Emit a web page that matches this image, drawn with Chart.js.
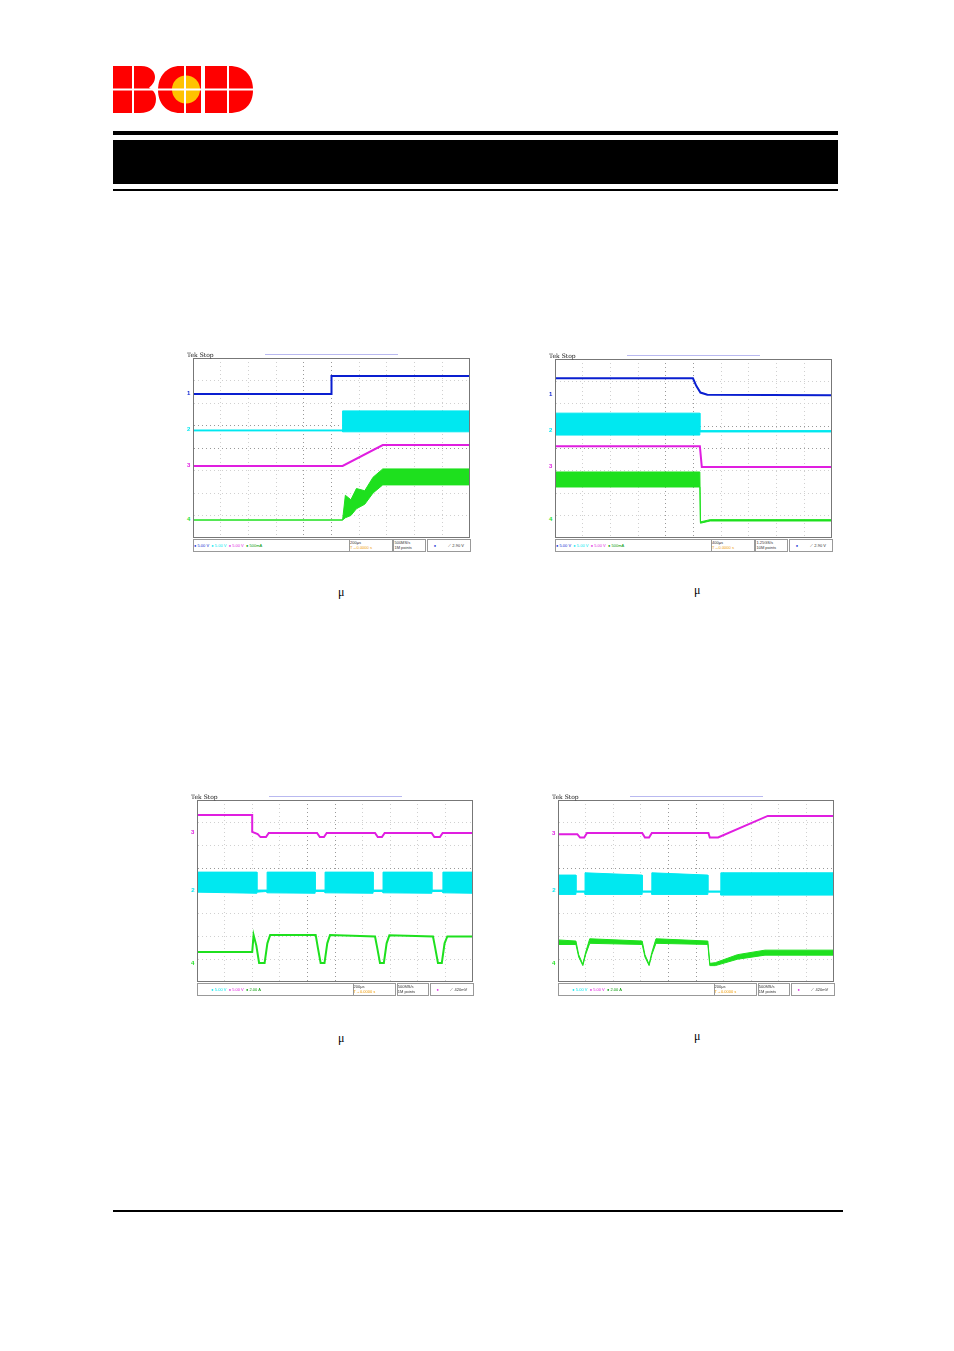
<!DOCTYPE html>
<html>
<head>
<meta charset="utf-8">
<script src="https://cdn.jsdelivr.net/npm/chart.js@4.4.1/dist/chart.umd.min.js"></script>
<style>
body{margin:0;background:#fff;font-family:"Liberation Sans",Arial,sans-serif}
#page{position:relative;width:954px;height:1351px}
.abs{position:absolute}
.scope{position:absolute}
.bar{position:absolute;height:11px;border:1px solid #999;background:#fff;font-size:4px;color:#333;display:flex;align-items:center}
.tek{position:absolute;font-size:6px;font-family:"DejaVu Serif",serif;color:#222}
.topbar{position:absolute;height:1px;background:#b9b9f0}
.mu{position:absolute;font-size:12px;font-family:"Liberation Serif",serif}
.ch{position:absolute;font-size:6px;font-weight:bold}
</style>
</head>
<body>
<div id="page">
  <!-- logo -->
  <svg class="abs" style="left:113px;top:64px" width="142" height="52" viewBox="0 0 142 52">
    <path d="M0 2h28c10 0 14 6 14 11 0 5-3 8-6 11 4 2 7 5 7 11 0 9-6 14-16 14H0z" fill="#ff0000"/>
    <path d="M88 2H67C54 2 45 12 45 26s9 23 22 23h21z" fill="#ff0000"/>
    <circle cx="73" cy="25.5" r="14" fill="#ffc200"/>
    <path d="M92 2h24c16 0 24 10 24 24s-8 23-24 23H92z" fill="#ff0000"/>
    <path d="M0 25.5h142M20 0v52M72 0v52M115 0v52" stroke="#fff" stroke-width="2"/>
  </svg>
  <div class="abs" style="left:113px;top:131px;width:725px;height:4px;background:#000"></div>
  <div class="abs" style="left:113px;top:140px;width:725px;height:44px;background:#000"></div>
  <div class="abs" style="left:113px;top:189px;width:725px;height:2px;background:#000"></div>
  <div class="abs" style="left:113px;top:1210px;width:730px;height:2px;background:#000"></div>
  <div class="mu" style="left:338px;top:585px">μ</div>
  <div class="mu" style="left:694px;top:583px">μ</div>
  <div class="mu" style="left:338px;top:1031px">μ</div>
  <div class="mu" style="left:694px;top:1029px">μ</div>
</div>
<script>
// ---- scope 1 : startup (divisions, 10 x 8) ----
const s1BlueX = [0, 5, 5, 10];
const s1BlueY = [6.4, 6.4, 7.2, 7.2];
const s1CyanX = [0, 5.4, 5.4, 10];
const s1CyanHi = [4.8, 4.8, 5.65, 5.65];
const s1CyanLo = [4.76, 4.76, 4.72, 4.72];
const s1MagX = [0, 5.4, 6.85, 10];
const s1MagY = [3.2, 3.2, 4.13, 4.13];
const s1GreenX = [0, 5.4, 5.5, 5.7, 5.9, 6.2, 6.5, 6.85, 10];
const s1GreenHi = [0.8, 0.8, 1.9, 1.7, 2.2, 2.1, 2.7, 3.07, 3.07];
const s1GreenLo = [0.8, 0.8, 0.9, 1.0, 1.3, 1.5, 2.0, 2.36, 2.36];

// ---- scope 2 : shutdown ----
const s2BlueX = [0, 4.98, 5.1, 5.25, 5.5, 10];
const s2BlueY = [7.14, 7.14, 6.8, 6.5, 6.4, 6.38];
const s2CyanX = [0, 5.23, 5.23, 10];
const s2CyanHi = [5.58, 5.58, 4.8, 4.8];
const s2CyanLo = [4.6, 4.6, 4.74, 4.74];
const s2MagX = [0, 5.23, 5.3, 10];
const s2MagY = [4.1, 4.1, 3.17, 3.17];
const s2GreenX = [0, 5.23, 5.25, 5.6, 10];
const s2GreenHi = [2.95, 2.95, 0.72, 0.82, 0.82];
const s2GreenLo = [2.28, 2.28, 0.66, 0.76, 0.76];

// ---- scope 3 : load transient ----
const s3MagX = [0, 2.0, 2.0, 2.2, 2.3, 2.5, 2.6, 4.35, 4.45, 4.6, 4.7, 6.45, 6.55, 6.7, 6.8, 8.5, 8.6, 8.8, 8.9, 10];
const s3MagY = [7.34, 7.34, 6.6, 6.5, 6.37, 6.37, 6.55, 6.55, 6.37, 6.37, 6.55, 6.55, 6.37, 6.37, 6.55, 6.55, 6.37, 6.37, 6.55, 6.55];
const s3CyanX = [0, 2.17, 2.17, 2.54, 2.54, 4.28, 4.28, 4.64, 4.64, 6.38, 6.38, 6.74, 6.74, 8.51, 8.51, 8.91, 8.91, 10];
const s3CyanHi = [4.83, 4.83, 4.04, 4.04, 4.83, 4.83, 4.04, 4.04, 4.83, 4.83, 4.04, 4.04, 4.83, 4.83, 4.04, 4.04, 4.83, 4.83];
const s3CyanLo = [3.95, 3.9, 3.95, 3.98, 3.92, 3.9, 3.98, 3.98, 3.92, 3.9, 3.98, 3.98, 3.92, 3.9, 3.98, 3.98, 3.92, 3.9];
const s3GreenX = [0, 2.0, 2.05, 2.15, 2.25, 2.45, 2.55, 2.65, 4.3, 4.38, 4.48, 4.62, 4.72, 4.82, 6.45, 6.53, 6.63, 6.77, 6.87, 6.97, 8.55, 8.63, 8.73, 8.87, 8.97, 9.07, 10];
const s3GreenY = [1.32, 1.32, 2.07, 1.6, 0.84, 0.84, 1.7, 2.07, 2.07, 1.5, 0.84, 0.84, 1.7, 2.07, 2.0, 1.5, 0.84, 0.84, 1.7, 2.05, 2.0, 1.5, 0.84, 0.84, 1.7, 2.0, 2.0];

// ---- scope 4 : load release ----
const s4MagX = [0, 0.7, 0.8, 0.95, 1.05, 3.05, 3.15, 3.3, 3.4, 5.45, 5.5, 5.8, 7.6, 10];
const s4MagY = [6.5, 6.5, 6.35, 6.35, 6.55, 6.55, 6.35, 6.35, 6.55, 6.55, 6.35, 6.35, 7.3, 7.3];
const s4CyanX = [0, 0.65, 0.65, 0.98, 0.98, 3.05, 3.05, 3.4, 3.4, 5.43, 5.43, 5.9, 5.9, 10];
const s4CyanHi = [4.7, 4.7, 4.0, 4.0, 4.8, 4.7, 4.0, 4.0, 4.8, 4.7, 4.0, 4.0, 4.8, 4.8];
const s4CyanLo = [3.85, 3.85, 3.95, 3.95, 3.85, 3.85, 3.95, 3.95, 3.85, 3.85, 3.95, 3.95, 3.82, 3.82];
const s4GreenX = [0, 0.65, 0.75, 0.9, 1.0, 1.15, 3.05, 3.15, 3.3, 3.4, 3.55, 5.43, 5.5, 5.7, 6.5, 7.5, 10];
const s4GreenHi = [1.85, 1.8, 1.2, 0.78, 1.3, 1.9, 1.8, 1.2, 0.78, 1.3, 1.9, 1.8, 0.82, 0.85, 1.2, 1.4, 1.4];
const s4GreenLo = [1.65, 1.65, 1.1, 0.72, 1.2, 1.7, 1.65, 1.1, 0.72, 1.2, 1.7, 1.65, 0.72, 0.72, 1.0, 1.18, 1.18];

const BLUE = "#0a1fd0", CYAN = "#00e8f0", MAG = "#e01ee0", GREEN = "#1ee01e";

function pts(xs, ys) { return xs.map((x, i) => ({ x: x, y: ys[i] })); }
function line(xs, ys, color) {
  return { data: pts(xs, ys), borderColor: color, borderWidth: 2, pointRadius: 0, fill: false, tension: 0 };
}
function band(xs, hi, lo, color) {
  return [
    { data: pts(xs, hi), borderColor: color, borderWidth: 1, pointRadius: 0, fill: false, tension: 0 },
    { data: pts(xs, lo), borderColor: color, borderWidth: 1, pointRadius: 0, fill: "-1", backgroundColor: color, tension: 0 }
  ];
}

const scopes = [
  { left: 193, top: 358, w: 277, h: 180, sets: [line(s1BlueX, s1BlueY, BLUE), ...band(s1CyanX, s1CyanHi, s1CyanLo, CYAN), line(s1MagX, s1MagY, MAG), ...band(s1GreenX, s1GreenHi, s1GreenLo, GREEN)],
    marks: [[6.4, "1", BLUE], [4.8, "2", CYAN], [3.2, "3", MAG], [0.8, "4", GREEN]], bar: "1", time: "200μs", rate: "500MS/s<br>1M points", trig: "2.90 V", trigColor: BLUE },
  { left: 555, top: 359, w: 277, h: 179, sets: [line(s2BlueX, s2BlueY, BLUE), ...band(s2CyanX, s2CyanHi, s2CyanLo, CYAN), line(s2MagX, s2MagY, MAG), ...band(s2GreenX, s2GreenHi, s2GreenLo, GREEN)],
    marks: [[6.38, "1", BLUE], [4.78, "2", CYAN], [3.17, "3", MAG], [0.8, "4", GREEN]], bar: "1", time: "400μs", rate: "1.25GS/s<br>10M points", trig: "2.90 V", trigColor: BLUE },
  { left: 197, top: 800, w: 276, h: 182, sets: [line(s3MagX, s3MagY, MAG), ...band(s3CyanX, s3CyanHi, s3CyanLo, CYAN), line(s3GreenX, s3GreenY, GREEN)],
    marks: [[6.55, "3", MAG], [4.0, "2", CYAN], [0.8, "4", GREEN]], bar: "3", time: "200μs", rate: "500MS/s<br>1M points", trig: "420mV", trigColor: MAG },
  { left: 558, top: 800, w: 276, h: 182, sets: [line(s4MagX, s4MagY, MAG), ...band(s4CyanX, s4CyanHi, s4CyanLo, CYAN), ...band(s4GreenX, s4GreenHi, s4GreenLo, GREEN)],
    marks: [[6.5, "3", MAG], [4.0, "2", CYAN], [0.8, "4", GREEN]], bar: "3", time: "200μs", rate: "500MS/s<br>1M points", trig: "420mV", trigColor: MAG }
];

const page = document.getElementById("page");
scopes.forEach((s) => {
  const box = document.createElement("div");
  box.className = "scope";
  box.style.cssText = `left:${s.left}px;top:${s.top}px;width:${s.w}px;height:${s.h}px`;
  const cv = document.createElement("canvas");
  box.appendChild(cv);
  page.appendChild(box);

  const tek = document.createElement("div");
  tek.className = "tek";
  tek.style.cssText = `left:${s.left - 6}px;top:${s.top - 7}px`;
  tek.textContent = "Tek Stop";
  page.appendChild(tek);
  const tb = document.createElement("div");
  tb.className = "topbar";
  tb.style.cssText = `left:${s.left + 72}px;top:${s.top - 4}px;width:133px`;
  page.appendChild(tb);
  s.marks.forEach((m) => {
    const c = document.createElement("div");
    c.className = "ch";
    c.style.cssText = `left:${s.left - 6}px;top:${s.top + s.h - m[0] / 8 * s.h - 4}px;color:${m[2]}`;
    c.textContent = m[1];
    page.appendChild(c);
  });
  const bar = document.createElement("div");
  bar.className = "bar";
  bar.style.cssText = `left:${s.left}px;top:${s.h + s.top + 1}px;width:${s.w * 0.56}px;color:#66c`;
  bar.innerHTML = s.bar === "1"
    ? '<span style="color:' + BLUE + '">● 5.00 V</span>&nbsp;&nbsp;<span style="color:' + CYAN + '">● 5.00 V</span>&nbsp;&nbsp;<span style="color:' + MAG + '">● 5.00 V</span>&nbsp;&nbsp;<span style="color:#090">● 500mA</span>'
    : '&nbsp;&nbsp;&nbsp;&nbsp;&nbsp;&nbsp;&nbsp;&nbsp;&nbsp;&nbsp;&nbsp;&nbsp;<span style="color:' + CYAN + '">● 5.00 V</span>&nbsp;&nbsp;<span style="color:' + MAG + '">● 5.00 V</span>&nbsp;&nbsp;<span style="color:#090">● 2.00 A</span>';
  page.appendChild(bar);
  const b2 = document.createElement("div");
  b2.className = "bar";
  b2.style.cssText = `left:${s.left + s.w * 0.56 + 1}px;top:${s.h + s.top + 1}px;width:${s.w * 0.15}px;line-height:5px;display:block`;
  b2.innerHTML = s.time + '<br><span style="color:#e90">T→0.0000 s</span>';
  page.appendChild(b2);
  const b3 = document.createElement("div");
  b3.className = "bar";
  b3.style.cssText = `left:${s.left + s.w * 0.72 + 1}px;top:${s.h + s.top + 1}px;width:${s.w * 0.11}px;line-height:5px;display:block`;
  b3.innerHTML = s.rate;
  page.appendChild(b3);
  const b4 = document.createElement("div");
  b4.className = "bar";
  b4.style.cssText = `left:${s.left + s.w * 0.84 + 1}px;top:${s.h + s.top + 1}px;width:${s.w * 0.16 - 2}px;justify-content:space-around`;
  b4.innerHTML = '<span style="color:' + s.trigColor + '">●</span> ⟋ ' + s.trig;
  page.appendChild(b4);

  const gridColor = (ctx) => (ctx.tick && (ctx.tick.value === 5 || ctx.tick.value === 4) ? "#999" : "#d0d0d0");
  new Chart(cv, {
    type: "line",
    data: { datasets: s.sets },
    options: {
      responsive: true,
      maintainAspectRatio: false,
      animation: false,
      layout: { padding: 0 },
      plugins: { legend: { display: false }, tooltip: { enabled: false } },
      scales: {
        x: { type: "linear", min: 0, max: 10, ticks: { display: false, stepSize: 1 },
             grid: { color: gridColor, drawTicks: false }, border: { color: "#777", dash: [1, 3] } },
        y: { min: 0, max: 8, ticks: { display: false, stepSize: 1 },
             grid: { color: gridColor, drawTicks: false }, border: { color: "#777", dash: [1, 3] } }
      }
    },
    plugins: [{
      id: "frame",
      afterDraw(chart) {
        const a = chart.chartArea, c = chart.ctx;
        c.save();
        c.strokeStyle = "#777";
        c.lineWidth = 1;
        c.strokeRect(a.left + 0.5, a.top + 0.5, a.right - a.left - 1, a.bottom - a.top - 1);
        c.restore();
      }
    }]
  });
});
</script>
</body>
</html>
